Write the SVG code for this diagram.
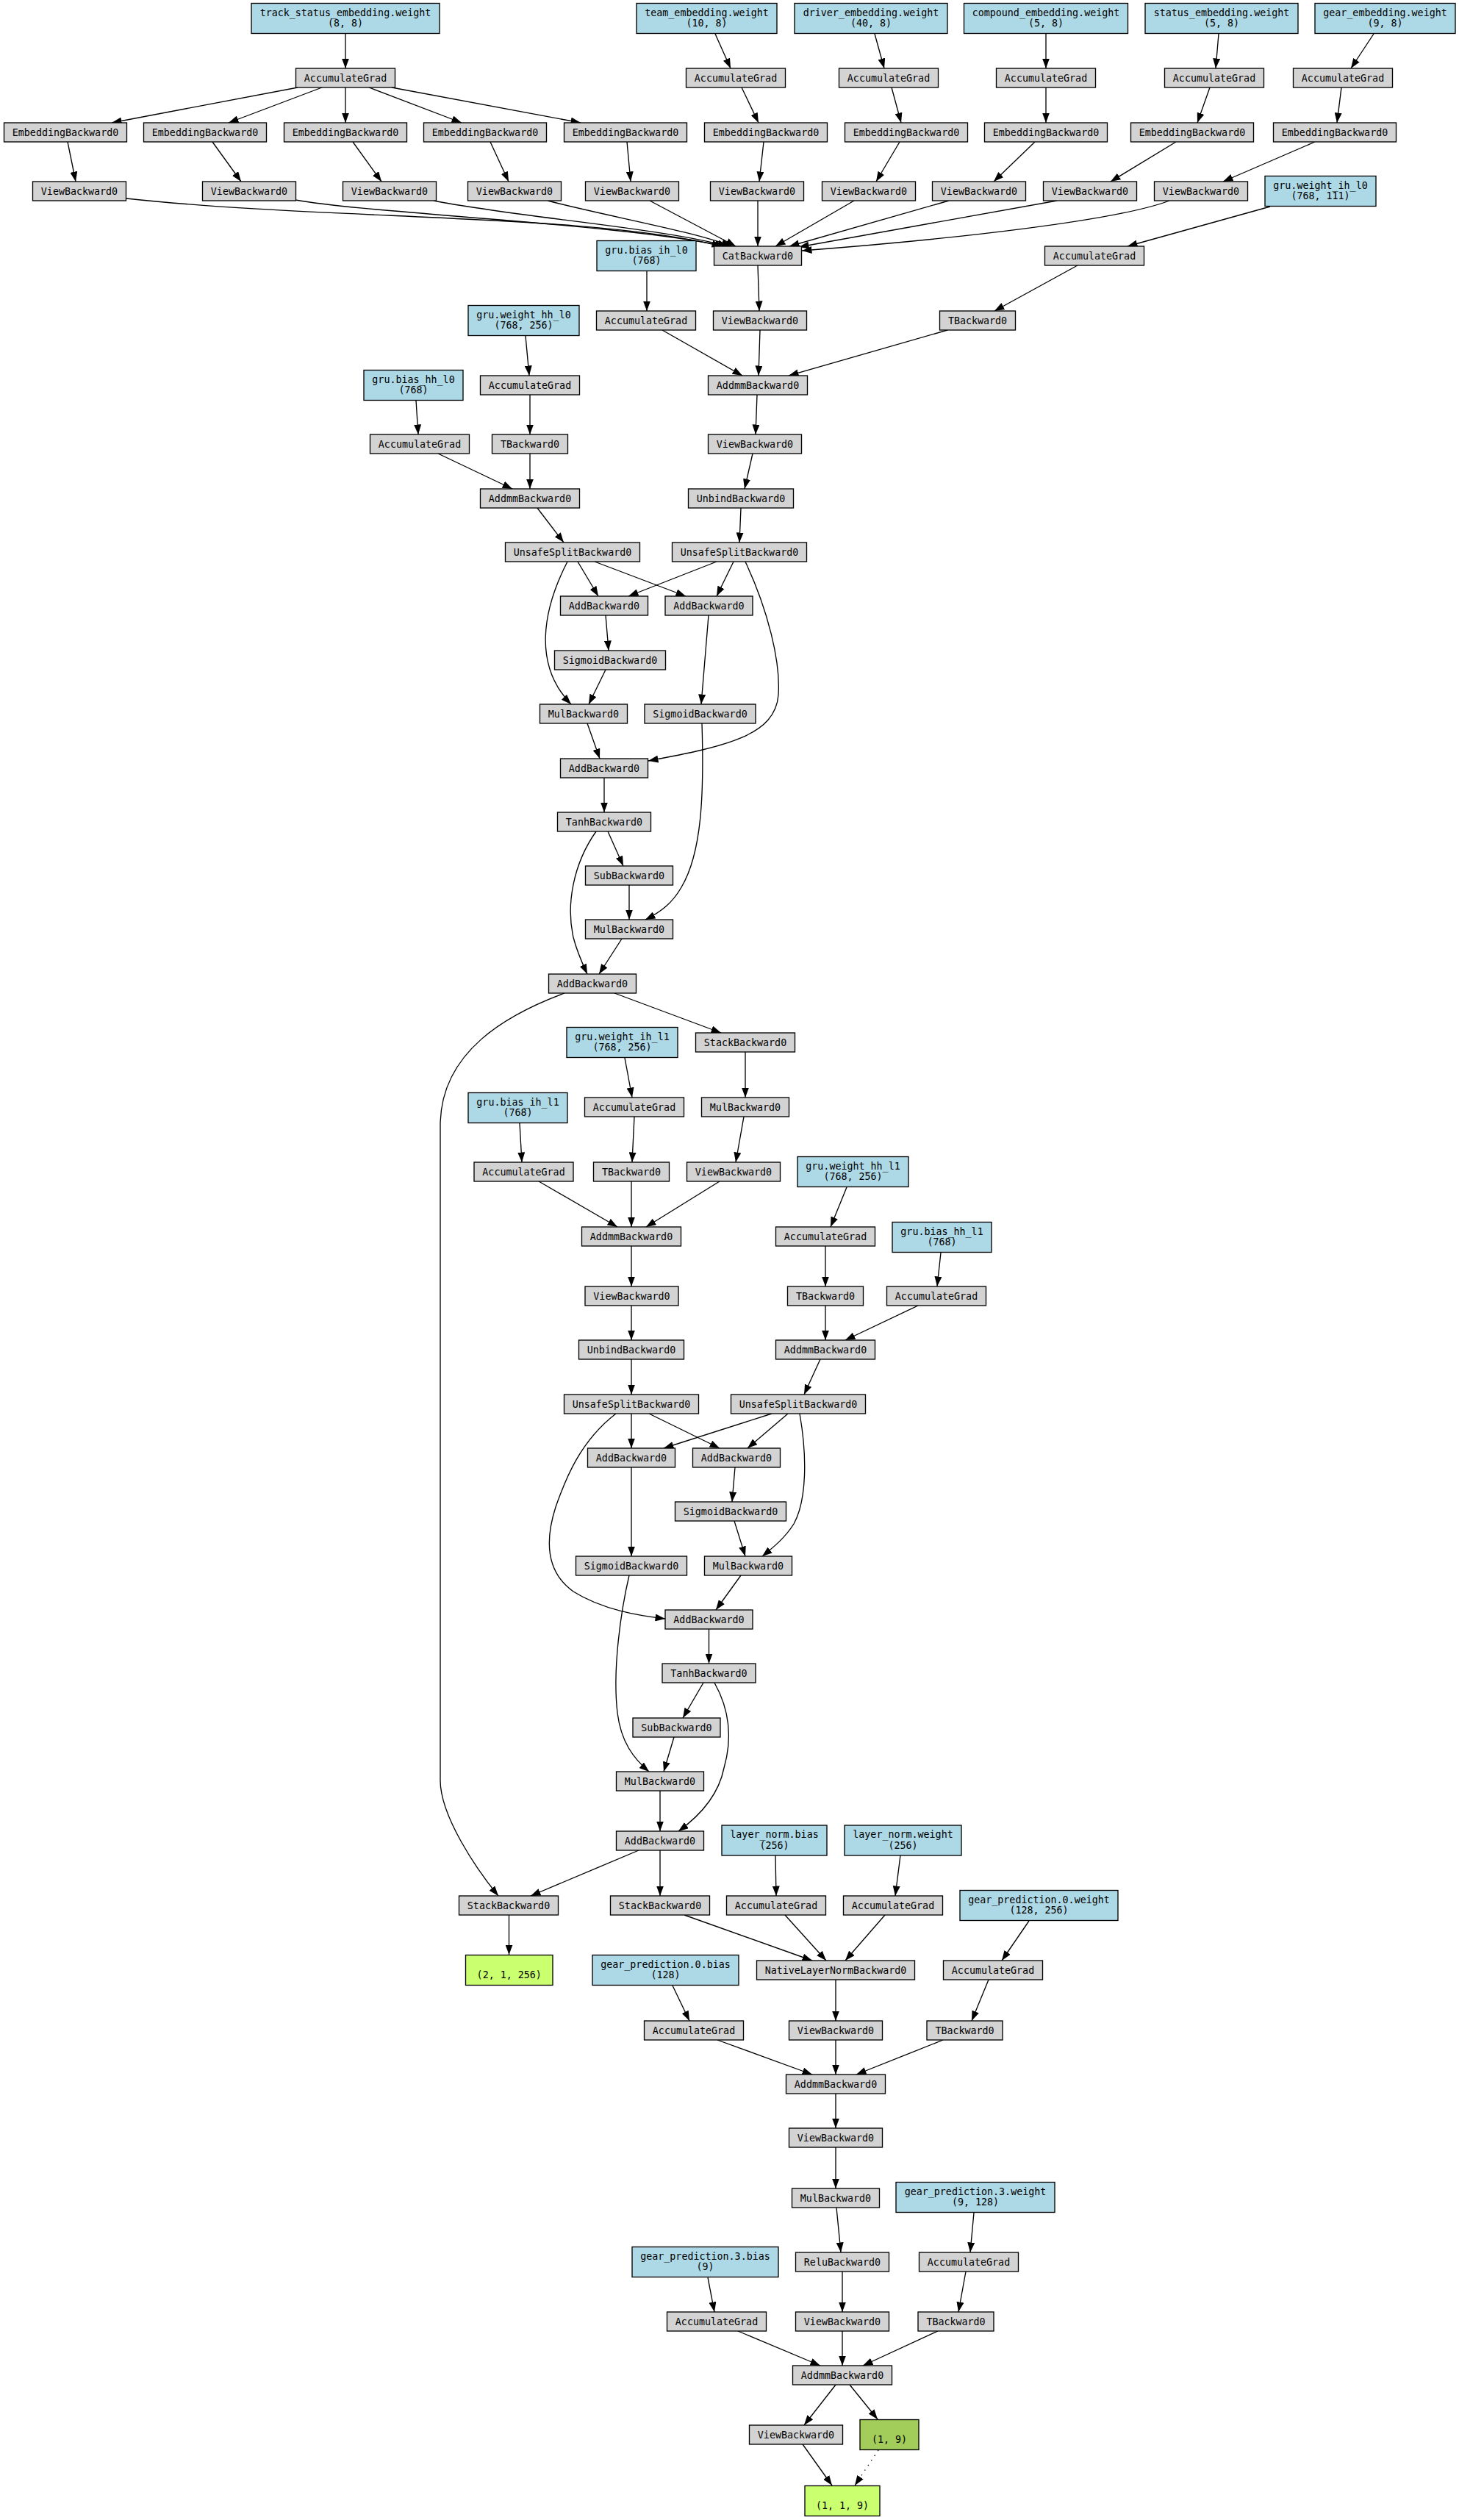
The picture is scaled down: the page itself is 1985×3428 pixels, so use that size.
<svg xmlns="http://www.w3.org/2000/svg" width="1985" height="3428" viewBox="0 0 1985 3428">
<style>
  .p rect{fill:#add8e6;stroke:#000;stroke-width:1.33}
  .f rect{fill:#d3d3d3;stroke:#000;stroke-width:1.33}
  .o rect{fill:#caff70;stroke:#000;stroke-width:1.33}
  .o2 rect{fill:#a2cd5a;stroke:#000;stroke-width:1.33}
  text{font-family:"DejaVu Sans Mono","Liberation Mono",monospace;font-size:13.33px;fill:#000;text-anchor:middle}
  #edges path{fill:none;stroke:#000;stroke-width:1.33;marker-end:url(#ah)}
  #edges path.dot{stroke-dasharray:1.33 6.67}
</style>
<defs>
  <marker id="ah" viewBox="0 0 13.5 10" refX="13.5" refY="5" markerWidth="13.5" markerHeight="10" markerUnits="userSpaceOnUse" orient="auto">
    <path d="M0,0 L13.5,5 L0,10 z" fill="#000"/>
  </marker>
</defs>
<rect width="1985" height="3428" fill="#fff"/>

<g id="edges">
  <!-- track status embedding fan-out -->
  <path d="M470,46 L470,93"/>
  <path d="M405,119 L152,167"/>
  <path d="M438,119 L311,167"/>
  <path d="M470,119 L470,167"/>
  <path d="M502,119 L628,167"/>
  <path d="M533,119 L790,167"/>
  <path d="M92,193 L103,247"/>
  <path d="M289,193 L328,247"/>
  <path d="M480,193 L519,247"/>
  <path d="M667,193 L692,247"/>
  <path d="M853,193 L858,247"/>
  <path d="M172,270 C450,300 800,290 982,335"/>
  <path d="M402,272 C500,290 850,305 986,335"/>
  <path d="M590,273 C700,295 900,310 990,335"/>
  <path d="M745,273 C830,295 945,315 995,335"/>
  <path d="M884,273 L1001,335"/>
  <!-- other embeddings -->
  <path d="M973,46 L994,93"/>
  <path d="M1009,119 L1032,167"/>
  <path d="M1039,193 L1033,247"/>
  <path d="M1031,273 L1031,335"/>
  <path d="M1190,46 L1203,93"/>
  <path d="M1213,119 L1226,167"/>
  <path d="M1224,193 L1192,247"/>
  <path d="M1162,273 L1055,335"/>
  <path d="M1423,46 L1423,93"/>
  <path d="M1423,119 L1423,167"/>
  <path d="M1408,193 L1352,247"/>
  <path d="M1291,273 L1074,335"/>
  <path d="M1658,46 L1654,93"/>
  <path d="M1646,119 L1629,167"/>
  <path d="M1600,193 L1511,247"/>
  <path d="M1438,273 L1087,336"/>
  <path d="M1869,46 L1838,93"/>
  <path d="M1825,119 L1819,167"/>
  <path d="M1789,193 L1664,247"/>
  <path d="M1591,273 C1520,300 1300,325 1091,341"/>
  <!-- GRU layer 0 -->
  <path d="M1728,281 L1534,335"/>
  <path d="M1466,361 L1353,423"/>
  <path d="M1031,361 L1033,423"/>
  <path d="M880,369 L880,423"/>
  <path d="M901,449 L1010,511"/>
  <path d="M1034,449 L1032,511"/>
  <path d="M1289,449 L1073,511"/>
  <path d="M715,457 L720,511"/>
  <path d="M566,545 L569,591"/>
  <path d="M721,537 L721,591"/>
  <path d="M1030,537 L1028,591"/>
  <path d="M596,617 L697,665"/>
  <path d="M721,617 L721,665"/>
  <path d="M1024,617 L1013,665"/>
  <path d="M731,691 L767,738"/>
  <path d="M1008,691 L1006,738"/>
  <path d="M786,764 L814,811"/>
  <path d="M809,764 L933,811"/>
  <path d="M772,764 C738,830 725,905 777,958"/>
  <path d="M975,764 L855,811"/>
  <path d="M998,764 L975,811"/>
  <path d="M1014,764 C1045,830 1062,900 1059,945 C1055,1000 990,1015 882,1035"/>
  <path d="M824,837 L828,885"/>
  <path d="M964,837 L954,958"/>
  <path d="M824,911 L801,958"/>
  <path d="M799,984 L816,1032"/>
  <path d="M822,1058 L822,1105"/>
  <path d="M827,1131 L848,1178"/>
  <path d="M856,1204 L856,1251"/>
  <path d="M955,984 C958,1080 955,1160 927,1207 C915,1228 900,1240 878,1251"/>
  <path d="M811,1131 C780,1175 770,1230 780,1275 C785,1295 792,1310 799,1325"/>
  <path d="M846,1277 L815,1325"/>
  <path d="M836,1351 L981,1405"/>
  <path d="M768,1351 C690,1380 600,1430 599,1530 L599,2420 C598,2470 650,2545 678,2579"/>
  <!-- GRU layer 1 -->
  <path d="M1014,1431 L1014,1493"/>
  <path d="M850,1439 L860,1493"/>
  <path d="M707,1528 L710,1581"/>
  <path d="M863,1519 L860,1581"/>
  <path d="M1012,1519 L1001,1581"/>
  <path d="M733,1607 L840,1669"/>
  <path d="M859,1607 L859,1669"/>
  <path d="M979,1607 L879,1669"/>
  <path d="M1152,1615 L1130,1669"/>
  <path d="M859,1695 L859,1750"/>
  <path d="M1123,1695 L1123,1750"/>
  <path d="M1280,1704 L1275,1750"/>
  <path d="M859,1776 L859,1823"/>
  <path d="M1123,1776 L1123,1823"/>
  <path d="M1249,1776 L1150,1823"/>
  <path d="M859,1849 L859,1897"/>
  <path d="M1116,1849 L1094,1897"/>
  <path d="M859,1923 L859,1970"/>
  <path d="M883,1923 L979,1970"/>
  <path d="M838,1923 C790,1960 770,2010 756,2050 C740,2100 745,2140 780,2165 C820,2190 870,2198 905,2202"/>
  <path d="M1050,1923 L903,1970"/>
  <path d="M1072,1923 L1017,1970"/>
  <path d="M1088,1923 C1098,1980 1098,2040 1080,2073 C1068,2092 1052,2105 1037,2117"/>
  <path d="M859,1996 L859,2117"/>
  <path d="M1000,1996 L996,2043"/>
  <path d="M999,2069 L1014,2117"/>
  <path d="M1008,2143 L974,2190"/>
  <path d="M964.5,2216 L964.5,2263"/>
  <path d="M957,2289 L929,2337"/>
  <path d="M972,2289 C995,2330 995,2370 985,2405 C978,2440 955,2468 923,2491"/>
  <path d="M917,2363 L903,2410"/>
  <path d="M856,2143 C845,2190 833,2270 840,2330 C845,2370 862,2392 883,2410"/>
  <path d="M898,2436 L898,2491"/>
  <!-- output head -->
  <path d="M869,2517 L722,2579"/>
  <path d="M898,2517 L898,2579"/>
  <path d="M692.5,2605 L692.5,2659"/>
  <path d="M1055,2524 L1056,2579"/>
  <path d="M1225,2524 L1218,2579"/>
  <path d="M931,2605 L1105,2667"/>
  <path d="M1068,2605 L1124,2667"/>
  <path d="M1204,2605 L1150,2667"/>
  <path d="M1400,2613 L1363,2667"/>
  <path d="M915,2701 L938,2749"/>
  <path d="M1137,2693 L1137,2749"/>
  <path d="M1345,2693 L1322,2749"/>
  <path d="M976,2775 L1105,2822"/>
  <path d="M1137,2775 L1137,2822"/>
  <path d="M1283,2775 L1165,2822"/>
  <path d="M1137,2848 L1137,2895"/>
  <path d="M1137,2921 L1137,2977"/>
  <path d="M1138,3003 L1144,3064"/>
  <path d="M1325,3010 L1320,3064"/>
  <path d="M963,3098 L972,3145"/>
  <path d="M1146,3090 L1146,3145"/>
  <path d="M1314,3090 L1304,3145"/>
  <path d="M1004,3171 L1116,3218"/>
  <path d="M1146,3171 L1146,3218"/>
  <path d="M1276,3171 L1174,3218"/>
  <path d="M1137,3244 L1094,3299"/>
  <path d="M1156,3244 L1194,3291"/>
  <path d="M1092,3325 L1132,3381"/>
  <path class="dot" d="M1195,3333 L1163,3381"/>
</g>

<!-- embedding parameters -->
<g id="track_status_w" class="p"><rect x="342" y="4.5" width="256" height="41"/><text x="470" y="21.5">track_status_embedding.weight<tspan x="470" dy="14.5">(8, 8)</tspan></text></g>
<g id="team_w" class="p"><rect x="866" y="4.5" width="191" height="41"/><text x="961.5" y="21.5">team_embedding.weight<tspan x="961.5" dy="14.5">(10, 8)</tspan></text></g>
<g id="driver_w" class="p"><rect x="1081" y="4.5" width="208" height="41"/><text x="1185" y="21.5">driver_embedding.weight<tspan x="1185" dy="14.5">(40, 8)</tspan></text></g>
<g id="compound_w" class="p"><rect x="1311.5" y="4.5" width="223" height="41"/><text x="1423" y="21.5">compound_embedding.weight<tspan x="1423" dy="14.5">(5, 8)</tspan></text></g>
<g id="status_w" class="p"><rect x="1558" y="4.5" width="208" height="41"/><text x="1662" y="21.5">status_embedding.weight<tspan x="1662" dy="14.5">(5, 8)</tspan></text></g>
<g id="gear_w" class="p"><rect x="1789" y="4.5" width="191" height="41"/><text x="1884.5" y="21.5">gear_embedding.weight<tspan x="1884.5" dy="14.5">(9, 8)</tspan></text></g>

<g id="track_status_acc" class="f"><rect x="402.5" y="93" width="135" height="26"/><text x="470" y="110.5">AccumulateGrad</text></g>
<g id="team_acc" class="f"><rect x="933.5" y="93" width="135" height="26"/><text x="1001" y="110.5">AccumulateGrad</text></g>
<g id="driver_acc" class="f"><rect x="1141.5" y="93" width="135" height="26"/><text x="1209" y="110.5">AccumulateGrad</text></g>
<g id="compound_acc" class="f"><rect x="1355.5" y="93" width="135" height="26"/><text x="1423" y="110.5">AccumulateGrad</text></g>
<g id="status_acc" class="f"><rect x="1584.5" y="93" width="135" height="26"/><text x="1652" y="110.5">AccumulateGrad</text></g>
<g id="gear_acc" class="f"><rect x="1759.5" y="93" width="135" height="26"/><text x="1827" y="110.5">AccumulateGrad</text></g>

<g id="emb1" class="f"><rect x="5.5" y="167" width="167" height="26"/><text x="89" y="184.5">EmbeddingBackward0</text></g>
<g id="emb2" class="f"><rect x="195.5" y="167" width="167" height="26"/><text x="279" y="184.5">EmbeddingBackward0</text></g>
<g id="emb3" class="f"><rect x="386.5" y="167" width="167" height="26"/><text x="470" y="184.5">EmbeddingBackward0</text></g>
<g id="emb4" class="f"><rect x="576.5" y="167" width="167" height="26"/><text x="660" y="184.5">EmbeddingBackward0</text></g>
<g id="emb5" class="f"><rect x="767.5" y="167" width="167" height="26"/><text x="851" y="184.5">EmbeddingBackward0</text></g>
<g id="emb_team" class="f"><rect x="958.5" y="167" width="167" height="26"/><text x="1042" y="184.5">EmbeddingBackward0</text></g>
<g id="emb_driver" class="f"><rect x="1149.5" y="167" width="167" height="26"/><text x="1233" y="184.5">EmbeddingBackward0</text></g>
<g id="emb_compound" class="f"><rect x="1339.5" y="167" width="167" height="26"/><text x="1423" y="184.5">EmbeddingBackward0</text></g>
<g id="emb_status" class="f"><rect x="1538.5" y="167" width="167" height="26"/><text x="1622" y="184.5">EmbeddingBackward0</text></g>
<g id="emb_gear" class="f"><rect x="1732.5" y="167" width="167" height="26"/><text x="1816" y="184.5">EmbeddingBackward0</text></g>

<g id="view1" class="f"><rect x="44.5" y="247" width="127" height="26"/><text x="108" y="264.5">ViewBackward0</text></g>
<g id="view2" class="f"><rect x="275.5" y="247" width="127" height="26"/><text x="339" y="264.5">ViewBackward0</text></g>
<g id="view3" class="f"><rect x="466.5" y="247" width="127" height="26"/><text x="530" y="264.5">ViewBackward0</text></g>
<g id="view4" class="f"><rect x="636.5" y="247" width="127" height="26"/><text x="700" y="264.5">ViewBackward0</text></g>
<g id="view5" class="f"><rect x="796.5" y="247" width="127" height="26"/><text x="860" y="264.5">ViewBackward0</text></g>
<g id="view_team" class="f"><rect x="966.5" y="247" width="127" height="26"/><text x="1030" y="264.5">ViewBackward0</text></g>
<g id="view_driver" class="f"><rect x="1118.5" y="247" width="127" height="26"/><text x="1182" y="264.5">ViewBackward0</text></g>
<g id="view_compound" class="f"><rect x="1268.5" y="247" width="127" height="26"/><text x="1332" y="264.5">ViewBackward0</text></g>
<g id="view_status" class="f"><rect x="1419.5" y="247" width="127" height="26"/><text x="1483" y="264.5">ViewBackward0</text></g>
<g id="view_gear" class="f"><rect x="1570.5" y="247" width="127" height="26"/><text x="1634" y="264.5">ViewBackward0</text></g>

<!-- GRU layer 0 -->
<g id="w_ih_l0" class="p"><rect x="1721" y="239.5" width="151" height="41"/><text x="1796.5" y="256.5">gru.weight_ih_l0<tspan x="1796.5" dy="14.5">(768, 111)</tspan></text></g>
<g id="cat" class="f"><rect x="971.5" y="335" width="119" height="26"/><text x="1031" y="352.5">CatBackward0</text></g>
<g id="w_ih_l0_acc" class="f"><rect x="1421.5" y="335" width="135" height="26"/><text x="1489" y="352.5">AccumulateGrad</text></g>
<g id="b_ih_l0" class="p"><rect x="812" y="327.5" width="135" height="41"/><text x="879.5" y="344.5">gru.bias_ih_l0<tspan x="879.5" dy="14.5">(768)</tspan></text></g>
<g id="b_ih_l0_acc" class="f"><rect x="811.5" y="423" width="135" height="26"/><text x="879" y="440.5">AccumulateGrad</text></g>
<g id="cat_view" class="f"><rect x="970.5" y="423" width="127" height="26"/><text x="1034" y="440.5">ViewBackward0</text></g>
<g id="w_ih_l0_t" class="f"><rect x="1278.5" y="423" width="103" height="26"/><text x="1330" y="440.5">TBackward0</text></g>
<g id="w_hh_l0" class="p"><rect x="637" y="415.5" width="151" height="41"/><text x="712.5" y="432.5">gru.weight_hh_l0<tspan x="712.5" dy="14.5">(768, 256)</tspan></text></g>
<g id="b_hh_l0" class="p"><rect x="495" y="503.5" width="135" height="41"/><text x="562.5" y="520.5">gru.bias_hh_l0<tspan x="562.5" dy="14.5">(768)</tspan></text></g>
<g id="w_hh_l0_acc" class="f"><rect x="653.5" y="511" width="135" height="26"/><text x="721" y="528.5">AccumulateGrad</text></g>
<g id="addmm_ih_l0" class="f"><rect x="963.5" y="511" width="135" height="26"/><text x="1031" y="528.5">AddmmBackward0</text></g>
<g id="b_hh_l0_acc" class="f"><rect x="503.5" y="591" width="135" height="26"/><text x="571" y="608.5">AccumulateGrad</text></g>
<g id="w_hh_l0_t" class="f"><rect x="669.5" y="591" width="103" height="26"/><text x="721" y="608.5">TBackward0</text></g>
<g id="view_ih_l0" class="f"><rect x="963.5" y="591" width="127" height="26"/><text x="1027" y="608.5">ViewBackward0</text></g>
<g id="addmm_hh_l0" class="f"><rect x="653.5" y="665" width="135" height="26"/><text x="721" y="682.5">AddmmBackward0</text></g>
<g id="unbind_l0" class="f"><rect x="936.5" y="665" width="143" height="26"/><text x="1008" y="682.5">UnbindBackward0</text></g>
<g id="split_hh_l0" class="f"><rect x="687.5" y="738" width="183" height="26"/><text x="779" y="755.5">UnsafeSplitBackward0</text></g>
<g id="split_ih_l0" class="f"><rect x="914.5" y="738" width="183" height="26"/><text x="1006" y="755.5">UnsafeSplitBackward0</text></g>
<g id="add_r_l0" class="f"><rect x="762.5" y="811" width="119" height="26"/><text x="822" y="828.5">AddBackward0</text></g>
<g id="add_z_l0" class="f"><rect x="905" y="811" width="119" height="26"/><text x="964.5" y="828.5">AddBackward0</text></g>
<g id="sig_r_l0" class="f"><rect x="754.5" y="885" width="151" height="26"/><text x="830" y="902.5">SigmoidBackward0</text></g>
<g id="mul_r_l0" class="f"><rect x="734.5" y="958" width="119" height="26"/><text x="794" y="975.5">MulBackward0</text></g>
<g id="sig_z_l0" class="f"><rect x="877" y="958" width="151" height="26"/><text x="952.5" y="975.5">SigmoidBackward0</text></g>
<g id="add_n_l0" class="f"><rect x="762.5" y="1032" width="119" height="26"/><text x="822" y="1049.5">AddBackward0</text></g>
<g id="tanh_l0" class="f"><rect x="758.5" y="1105" width="127" height="26"/><text x="822" y="1122.5">TanhBackward0</text></g>
<g id="sub_l0" class="f"><rect x="796.5" y="1178" width="119" height="26"/><text x="856" y="1195.5">SubBackward0</text></g>
<g id="mul_z_l0" class="f"><rect x="796.5" y="1251" width="119" height="26"/><text x="856" y="1268.5">MulBackward0</text></g>
<g id="h_l0" class="f"><rect x="746.5" y="1325" width="119" height="26"/><text x="806" y="1342.5">AddBackward0</text></g>

<!-- GRU layer 1 -->
<g id="stack_l0" class="f"><rect x="946.5" y="1405" width="135" height="26"/><text x="1014" y="1422.5">StackBackward0</text></g>
<g id="w_ih_l1" class="p"><rect x="771" y="1397.5" width="151" height="41"/><text x="846.5" y="1414.5">gru.weight_ih_l1<tspan x="846.5" dy="14.5">(768, 256)</tspan></text></g>
<g id="b_ih_l1" class="p"><rect x="637" y="1486.5" width="135" height="41"/><text x="704.5" y="1503.5">gru.bias_ih_l1<tspan x="704.5" dy="14.5">(768)</tspan></text></g>
<g id="w_ih_l1_acc" class="f"><rect x="795.5" y="1493" width="135" height="26"/><text x="863" y="1510.5">AccumulateGrad</text></g>
<g id="stack_mul" class="f"><rect x="954.5" y="1493" width="119" height="26"/><text x="1014" y="1510.5">MulBackward0</text></g>
<g id="b_ih_l1_acc" class="f"><rect x="645" y="1581" width="135" height="26"/><text x="712.5" y="1598.5">AccumulateGrad</text></g>
<g id="w_ih_l1_t" class="f"><rect x="807.5" y="1581" width="103" height="26"/><text x="859" y="1598.5">TBackward0</text></g>
<g id="mul_view" class="f"><rect x="934.5" y="1581" width="127" height="26"/><text x="998" y="1598.5">ViewBackward0</text></g>
<g id="w_hh_l1" class="p"><rect x="1085" y="1573.5" width="151" height="41"/><text x="1160.5" y="1590.5">gru.weight_hh_l1<tspan x="1160.5" dy="14.5">(768, 256)</tspan></text></g>
<g id="addmm_ih_l1" class="f"><rect x="791.5" y="1669" width="135" height="26"/><text x="859" y="1686.5">AddmmBackward0</text></g>
<g id="w_hh_l1_acc" class="f"><rect x="1055.5" y="1669" width="135" height="26"/><text x="1123" y="1686.5">AccumulateGrad</text></g>
<g id="b_hh_l1" class="p"><rect x="1214" y="1662.5" width="135" height="41"/><text x="1281.5" y="1679.5">gru.bias_hh_l1<tspan x="1281.5" dy="14.5">(768)</tspan></text></g>
<g id="view_ih_l1" class="f"><rect x="796" y="1750" width="127" height="26"/><text x="859.5" y="1767.5">ViewBackward0</text></g>
<g id="w_hh_l1_t" class="f"><rect x="1071.5" y="1750" width="103" height="26"/><text x="1123" y="1767.5">TBackward0</text></g>
<g id="b_hh_l1_acc" class="f"><rect x="1206.5" y="1750" width="135" height="26"/><text x="1274" y="1767.5">AccumulateGrad</text></g>
<g id="unbind_l1" class="f"><rect x="787.5" y="1823" width="143" height="26"/><text x="859" y="1840.5">UnbindBackward0</text></g>
<g id="addmm_hh_l1" class="f"><rect x="1055.5" y="1823" width="135" height="26"/><text x="1123" y="1840.5">AddmmBackward0</text></g>
<g id="split_ih_l1" class="f"><rect x="767.5" y="1897" width="183" height="26"/><text x="859" y="1914.5">UnsafeSplitBackward0</text></g>
<g id="split_hh_l1" class="f"><rect x="994.5" y="1897" width="183" height="26"/><text x="1086" y="1914.5">UnsafeSplitBackward0</text></g>
<g id="add_r_l1" class="f"><rect x="799.5" y="1970" width="119" height="26"/><text x="859" y="1987.5">AddBackward0</text></g>
<g id="add_z_l1" class="f"><rect x="942.5" y="1970" width="119" height="26"/><text x="1002" y="1987.5">AddBackward0</text></g>
<g id="sig_z_l1" class="f"><rect x="918.5" y="2043" width="151" height="26"/><text x="994" y="2060.5">SigmoidBackward0</text></g>
<g id="sig_r_l1" class="f"><rect x="783.5" y="2117" width="151" height="26"/><text x="859" y="2134.5">SigmoidBackward0</text></g>
<g id="mul_r_l1" class="f"><rect x="958.5" y="2117" width="119" height="26"/><text x="1018" y="2134.5">MulBackward0</text></g>
<g id="add_n_l1" class="f"><rect x="905" y="2190" width="119" height="26"/><text x="964.5" y="2207.5">AddBackward0</text></g>
<g id="tanh_l1" class="f"><rect x="901" y="2263" width="127" height="26"/><text x="964.5" y="2280.5">TanhBackward0</text></g>
<g id="sub_l1" class="f"><rect x="861" y="2337" width="119" height="26"/><text x="920.5" y="2354.5">SubBackward0</text></g>
<g id="mul_z_l1" class="f"><rect x="838.5" y="2410" width="119" height="26"/><text x="898" y="2427.5">MulBackward0</text></g>
<g id="h_l1" class="f"><rect x="838.5" y="2491" width="119" height="26"/><text x="898" y="2508.5">AddBackward0</text></g>

<!-- head -->
<g id="ln_b" class="p"><rect x="982" y="2483" width="143" height="41"/><text x="1053.5" y="2500">layer_norm.bias<tspan x="1053.5" dy="14.5">(256)</tspan></text></g>
<g id="ln_w" class="p"><rect x="1149" y="2483" width="159" height="41"/><text x="1228.5" y="2500">layer_norm.weight<tspan x="1228.5" dy="14.5">(256)</tspan></text></g>
<g id="stack_h" class="f"><rect x="624.5" y="2579" width="135" height="26"/><text x="692" y="2596.5">StackBackward0</text></g>
<g id="stack_out" class="f"><rect x="830.5" y="2579" width="135" height="26"/><text x="898" y="2596.5">StackBackward0</text></g>
<g id="ln_b_acc" class="f"><rect x="988.5" y="2579" width="135" height="26"/><text x="1056" y="2596.5">AccumulateGrad</text></g>
<g id="ln_w_acc" class="f"><rect x="1147.5" y="2579" width="135" height="26"/><text x="1215" y="2596.5">AccumulateGrad</text></g>
<g id="gp0_w" class="p"><rect x="1306" y="2571.5" width="215" height="41"/><text x="1413.5" y="2588.5">gear_prediction.0.weight<tspan x="1413.5" dy="14.5">(128, 256)</tspan></text></g>
<g id="out_hidden" class="o"><rect x="633.5" y="2659.5" width="118.5" height="41"/><text x="692.75" y="2691">(2, 1, 256)</text></g>
<g id="gp0_b" class="p"><rect x="806" y="2659.5" width="199" height="41"/><text x="905.5" y="2676.5">gear_prediction.0.bias<tspan x="905.5" dy="14.5">(128)</tspan></text></g>
<g id="layer_norm" class="f"><rect x="1029.5" y="2667" width="215" height="26"/><text x="1137" y="2684.5">NativeLayerNormBackward0</text></g>
<g id="gp0_w_acc" class="f"><rect x="1283.5" y="2667" width="135" height="26"/><text x="1351" y="2684.5">AccumulateGrad</text></g>
<g id="gp0_b_acc" class="f"><rect x="876.5" y="2749" width="135" height="26"/><text x="944" y="2766.5">AccumulateGrad</text></g>
<g id="ln_view" class="f"><rect x="1073.5" y="2749" width="127" height="26"/><text x="1137" y="2766.5">ViewBackward0</text></g>
<g id="gp0_t" class="f"><rect x="1261" y="2749" width="103" height="26"/><text x="1312.5" y="2766.5">TBackward0</text></g>
<g id="gp0_addmm" class="f"><rect x="1069.5" y="2822" width="135" height="26"/><text x="1137" y="2839.5">AddmmBackward0</text></g>
<g id="gp0_view" class="f"><rect x="1073.5" y="2895" width="127" height="26"/><text x="1137" y="2912.5">ViewBackward0</text></g>
<g id="gp_mul" class="f"><rect x="1077.5" y="2977" width="119" height="26"/><text x="1137" y="2994.5">MulBackward0</text></g>
<g id="gp3_w" class="p"><rect x="1219" y="2968.5" width="216" height="41"/><text x="1327" y="2985.5">gear_prediction.3.weight<tspan x="1327" dy="14.5">(9, 128)</tspan></text></g>
<g id="gp3_b" class="p"><rect x="860" y="3056.5" width="199" height="41"/><text x="959.5" y="3073.5">gear_prediction.3.bias<tspan x="959.5" dy="14.5">(9)</tspan></text></g>
<g id="relu" class="f"><rect x="1082.5" y="3064" width="127" height="26"/><text x="1146" y="3081.5">ReluBackward0</text></g>
<g id="gp3_w_acc" class="f"><rect x="1250.5" y="3064" width="135" height="26"/><text x="1318" y="3081.5">AccumulateGrad</text></g>
<g id="gp3_b_acc" class="f"><rect x="907.5" y="3145" width="135" height="26"/><text x="975" y="3162.5">AccumulateGrad</text></g>
<g id="relu_view" class="f"><rect x="1082.5" y="3145" width="127" height="26"/><text x="1146" y="3162.5">ViewBackward0</text></g>
<g id="gp3_t" class="f"><rect x="1249" y="3145" width="103" height="26"/><text x="1300.5" y="3162.5">TBackward0</text></g>
<g id="gp3_addmm" class="f"><rect x="1078.5" y="3218" width="135" height="26"/><text x="1146" y="3235.5">AddmmBackward0</text></g>
<g id="out_view" class="f"><rect x="1019.5" y="3299" width="127" height="26"/><text x="1083" y="3316.5">ViewBackward0</text></g>
<g id="out_logits" class="o2"><rect x="1170" y="3291.5" width="80" height="41"/><text x="1210" y="3323">(1, 9)</text></g>
<g id="out_final" class="o"><rect x="1095" y="3381.5" width="102" height="41"/><text x="1146" y="3413">(1, 1, 9)</text></g>
</svg>
